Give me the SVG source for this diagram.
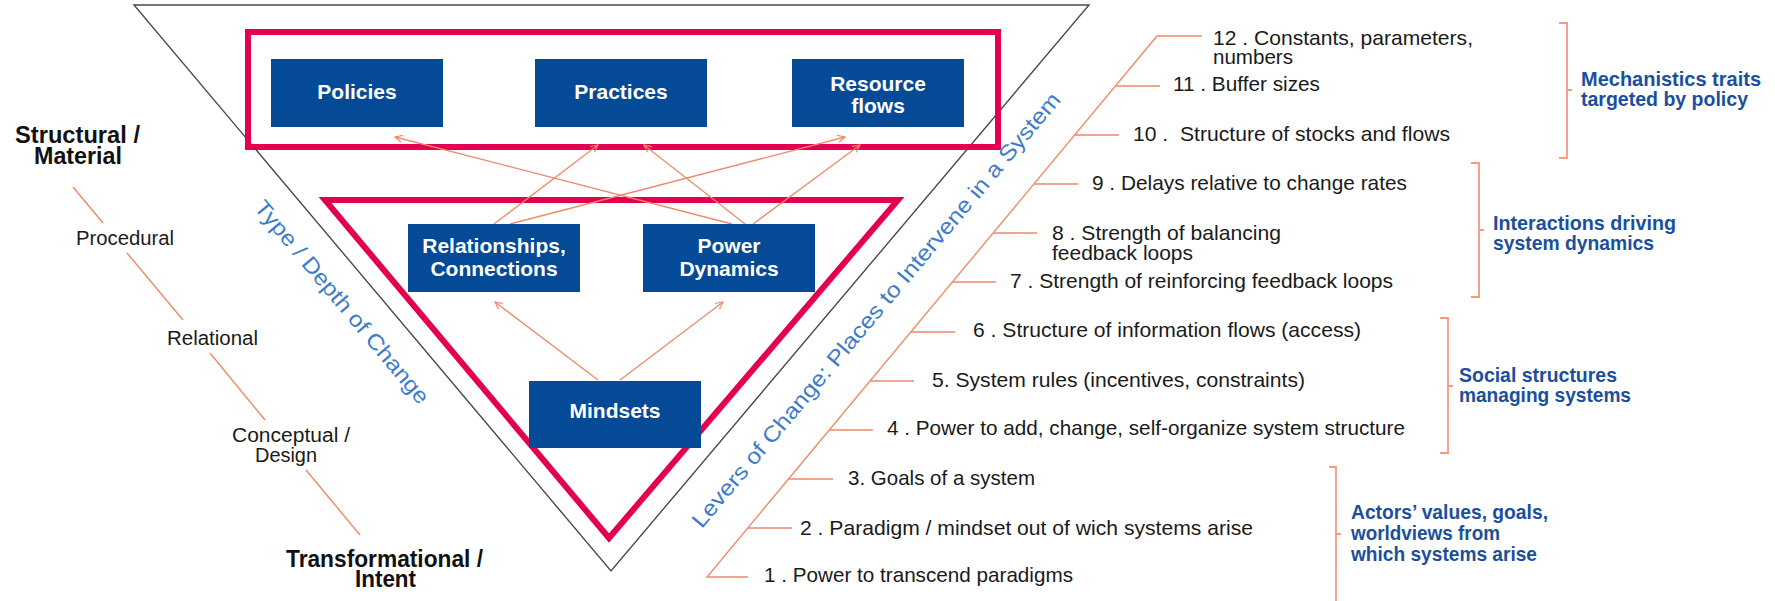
<svg xmlns="http://www.w3.org/2000/svg" width="1775" height="601" viewBox="0 0 1775 601">
<style>
.bx{fill:#044a96}
.bt{font-family:"Liberation Sans",Arial,sans-serif;font-weight:bold;font-size:21px;fill:#fff;text-anchor:middle}
.red{fill:none;stroke:#e3004f;stroke-width:6;stroke-linejoin:miter}
.blk{fill:none;stroke:#4a4a4a;stroke-width:1.4}
.or{fill:none;stroke:#f0896b;stroke-width:1.4}
.orb{fill:none;stroke:#f39a80;stroke-width:1.8}
.conn{fill:none;stroke:#f0896b;stroke-width:1.3;marker-end:url(#ah)}
.lv{font-family:"Liberation Sans",Arial,sans-serif;font-size:21px;fill:#1a1a1a}
.lb{font-family:"Liberation Sans",Arial,sans-serif;font-size:20px;fill:#1a1a1a}
.lbb{font-family:"Liberation Sans",Arial,sans-serif;font-size:24px;font-weight:bold;fill:#111}
.gb{font-family:"Liberation Sans",Arial,sans-serif;font-size:21px;font-weight:bold;fill:#1b4f9c}
.rot{font-family:"Liberation Sans",Arial,sans-serif;font-size:22px;fill:#3d7cc9;text-anchor:middle;dominant-baseline:central}
</style>
<defs>
<marker id="ah" viewBox="0 0 10 10" refX="9" refY="5" markerWidth="9" markerHeight="9" markerUnits="userSpaceOnUse" orient="auto">
<path d="M1,1 L9,5 L1,9" fill="none" stroke="#f0896b" stroke-width="1.3"/>
</marker>
</defs>
<rect width="1775" height="601" fill="#fff"/>

<g id="frame">
<path class="blk" d="M134,5 H1089 L611,571 Z"/>
<rect class="red" x="248" y="32" width="750" height="115"/>
<path class="red" d="M325,200 H898 L609,538 Z"/>
<text class="rot" transform="translate(342,302) rotate(50)" textLength="258" lengthAdjust="spacingAndGlyphs">Type / Depth of Change</text>
<text class="rot" transform="translate(876,310) rotate(-50)" textLength="560" lengthAdjust="spacingAndGlyphs">Levers of Change: Places to Intervene in a System</text>
</g>

<g id="connectors">
<path class="conn" d="M732,224 L395,137"/>
<path class="conn" d="M494,224 L598,145"/>
<path class="conn" d="M745,224 L644,145"/>
<path class="conn" d="M510,224 L845,137"/>
<path class="conn" d="M753,224 L860,145"/>
<path class="conn" d="M598,380 L495,302"/>
<path class="conn" d="M620,380 L723,302"/>
</g>

<g id="node-policies">
<rect class="bx" x="271" y="59" width="172" height="68"/>
<text class="bt" x="357" y="99">Policies</text>
</g>
<g id="node-practices">
<rect class="bx" x="535" y="59" width="172" height="68"/>
<text class="bt" x="621" y="99">Practices</text>
</g>
<g id="node-resource-flows">
<rect class="bx" x="792" y="59" width="172" height="68"/>
<text class="bt" x="878" y="91">Resource</text>
<text class="bt" x="878" y="113">flows</text>
</g>
<g id="node-relationships">
<rect class="bx" x="408" y="224" width="172" height="68"/>
<text class="bt" x="494" y="253">Relationships,</text>
<text class="bt" x="494" y="276">Connections</text>
</g>
<g id="node-power">
<rect class="bx" x="643" y="224" width="172" height="68"/>
<text class="bt" x="729" y="253">Power</text>
<text class="bt" x="729" y="276">Dynamics</text>
</g>
<g id="node-mindsets">
<rect class="bx" x="529" y="381" width="172" height="67"/>
<text class="bt" x="615" y="418">Mindsets</text>
</g>

<g id="depth-scale">
<text class="lbb" x="15" y="143" textLength="125" lengthAdjust="spacingAndGlyphs">Structural /</text>
<text class="lbb" x="34" y="164" textLength="88" lengthAdjust="spacingAndGlyphs">Material</text>
<path class="or" d="M73,187 L103,223"/>
<text class="lb" x="76" y="245" textLength="98" lengthAdjust="spacingAndGlyphs">Procedural</text>
<path class="or" d="M127,253 L183,320"/>
<text class="lb" x="167" y="345" textLength="91" lengthAdjust="spacingAndGlyphs">Relational</text>
<path class="or" d="M210,353 L265,420"/>
<text class="lb" x="232" y="442" textLength="118" lengthAdjust="spacingAndGlyphs">Conceptual /</text>
<text class="lb" x="255" y="462" textLength="62" lengthAdjust="spacingAndGlyphs">Design</text>
<path class="or" d="M306,470 L360,535"/>
<text class="lbb" x="286" y="567" textLength="197" lengthAdjust="spacingAndGlyphs">Transformational /</text>
<text class="lbb" x="355" y="587" textLength="61" lengthAdjust="spacingAndGlyphs">Intent</text>
</g>

<g id="levers">
<path class="or" d="M1202,36 H1157 L707,577 H748"/>
<path class="or" d="M1116,86 H1160 M1075,135 H1119 M1034,184 H1078 M993,233 H1037 M952,282 H996 M911,332 H955 M870,381 H914 M829,430 H873 M789,479 H833 M748,528 H792"/>
<text class="lv" x="1213" y="45" textLength="260" lengthAdjust="spacingAndGlyphs">12 . Constants, parameters,</text>
<text class="lv" x="1213" y="64" textLength="80" lengthAdjust="spacingAndGlyphs">numbers</text>
<text class="lv" x="1173" y="91" textLength="147" lengthAdjust="spacingAndGlyphs">11 . Buffer sizes</text>
<text class="lv" x="1133" y="141" textLength="317" lengthAdjust="spacingAndGlyphs" xml:space="preserve">10 .  Structure of stocks and flows</text>
<text class="lv" x="1092" y="190" textLength="315" lengthAdjust="spacingAndGlyphs">9 . Delays relative to change rates</text>
<text class="lv" x="1052" y="240" textLength="229" lengthAdjust="spacingAndGlyphs">8 . Strength of balancing</text>
<text class="lv" x="1052" y="260" textLength="141" lengthAdjust="spacingAndGlyphs">feedback loops</text>
<text class="lv" x="1010" y="288" textLength="383" lengthAdjust="spacingAndGlyphs">7 . Strength of reinforcing feedback loops</text>
<text class="lv" x="973" y="337" textLength="388" lengthAdjust="spacingAndGlyphs">6 . Structure of information flows (access)</text>
<text class="lv" x="932" y="387" textLength="373" lengthAdjust="spacingAndGlyphs">5. System rules (incentives, constraints)</text>
<text class="lv" x="887" y="435" textLength="518" lengthAdjust="spacingAndGlyphs">4 . Power to add, change, self-organize system structure</text>
<text class="lv" x="848" y="485" textLength="187" lengthAdjust="spacingAndGlyphs">3. Goals of a system</text>
<text class="lv" x="800" y="535" textLength="453" lengthAdjust="spacingAndGlyphs">2 . Paradigm / mindset out of wich systems arise</text>
<text class="lv" x="764" y="582" textLength="309" lengthAdjust="spacingAndGlyphs">1 . Power to transcend paradigms</text>
</g>

<g id="group-mechanistics">
<path class="orb" d="M1559,23 H1567 V158 H1559 M1567,90 H1572"/>
<text class="gb" x="1581" y="86" textLength="180" lengthAdjust="spacingAndGlyphs">Mechanistics traits</text>
<text class="gb" x="1581" y="106" textLength="167" lengthAdjust="spacingAndGlyphs">targeted by policy</text>
</g>
<g id="group-interactions">
<path class="orb" d="M1471,163 H1479 V297 H1471 M1479,230 H1484"/>
<text class="gb" x="1493" y="230" textLength="183" lengthAdjust="spacingAndGlyphs">Interactions driving</text>
<text class="gb" x="1493" y="250" textLength="161" lengthAdjust="spacingAndGlyphs">system dynamics</text>
</g>
<g id="group-social">
<path class="orb" d="M1440,318 H1448 V453 H1440 M1448,386 H1453"/>
<text class="gb" x="1459" y="382" textLength="158" lengthAdjust="spacingAndGlyphs">Social structures</text>
<text class="gb" x="1459" y="402" textLength="172" lengthAdjust="spacingAndGlyphs">managing systems</text>
</g>
<g id="group-actors">
<path class="orb" d="M1329,467 H1336 V601 M1336,534 H1341"/>
<text class="gb" x="1351" y="519" textLength="197" lengthAdjust="spacingAndGlyphs">Actors’ values, goals,</text>
<text class="gb" x="1351" y="540" textLength="149" lengthAdjust="spacingAndGlyphs">worldviews from</text>
<text class="gb" x="1351" y="561" textLength="186" lengthAdjust="spacingAndGlyphs">which systems arise</text>
</g>
</svg>
